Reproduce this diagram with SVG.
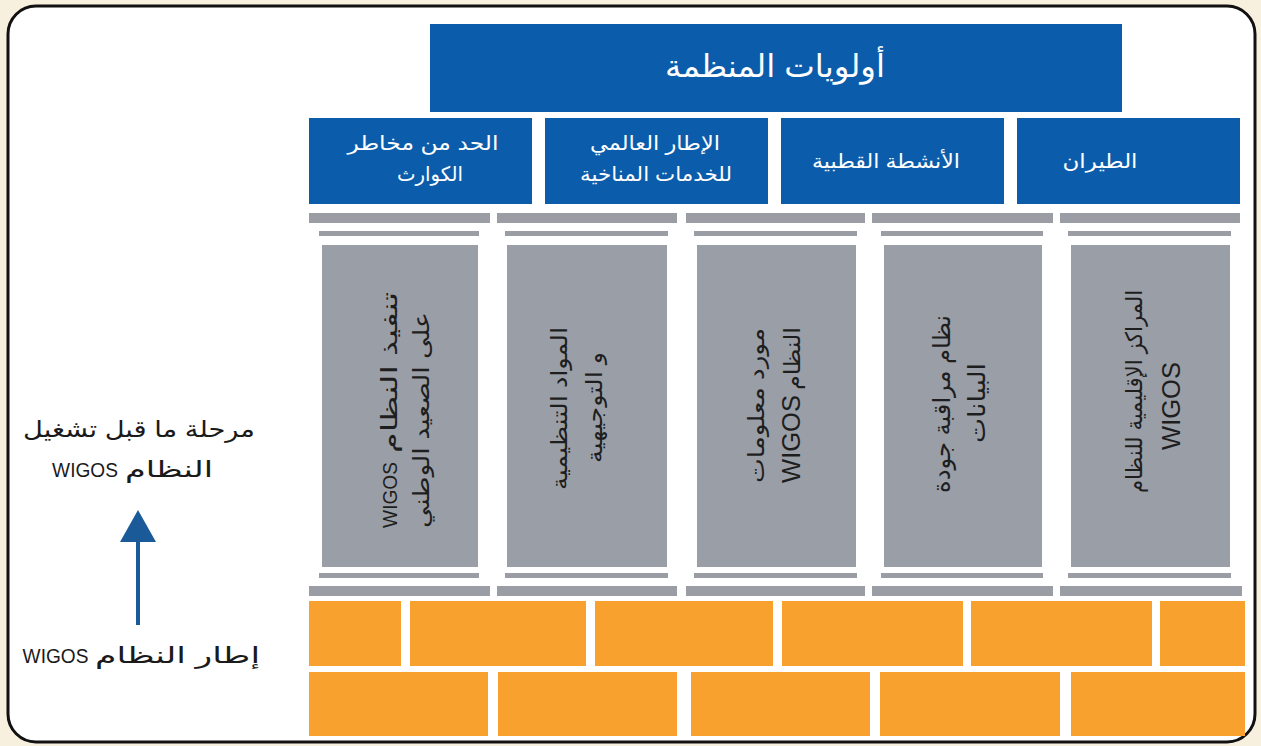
<svg xmlns="http://www.w3.org/2000/svg" width="1261" height="746" viewBox="0 0 1261 746">
  <defs>
    <style>
      .ar { font-family: "Liberation Sans", "DejaVu Sans", sans-serif; }
      .blue { fill: #0b5dab; }
      .bar { fill: #9b9da4; }
      .pillar { fill: #9a9ea7; }
      .brick { fill: #f8a12e; }
      .head { fill: #ffffff; font-size: 31px; }
      .cat { fill: #ffffff; font-size: 20px; }
      .col { fill: #1e1e1e; font-size: 22px; }
      .side { fill: #1a1a1a; font-size: 23px; }
      .latin { font-family: "Liberation Sans", Arial, sans-serif; }
    </style>
  </defs>

  <!-- page and frame -->
  <rect x="0" y="0" width="1261" height="746" fill="#f8f0df"/>
  <rect x="8" y="6" width="1247" height="736" rx="28" ry="28" fill="#ffffff" stroke="#111111" stroke-width="3"/>

  <!-- organisation priorities -->
  <g id="priorities">
    <rect class="blue" x="430" y="24" width="692" height="88"/>
    <text class="ar head" x="775" y="77" text-anchor="middle" direction="rtl" textLength="220" lengthAdjust="spacingAndGlyphs">أولويات المنظمة</text>
  </g>

  <g id="cat-disaster">
    <rect class="blue" x="309" y="118" width="223" height="86"/>
    <text class="ar cat" x="423" y="150" text-anchor="middle" direction="rtl" textLength="151" lengthAdjust="spacingAndGlyphs">الحد من مخاطر</text>
    <text class="ar cat" x="430" y="181" text-anchor="middle" direction="rtl" textLength="66" lengthAdjust="spacingAndGlyphs">الكوارث</text>
  </g>
  <g id="cat-gfcs">
    <rect class="blue" x="545" y="118" width="223" height="86"/>
    <text class="ar cat" x="655" y="150" text-anchor="middle" direction="rtl" textLength="130" lengthAdjust="spacingAndGlyphs">الإطار العالمي</text>
    <text class="ar cat" x="656" y="181" text-anchor="middle" direction="rtl" textLength="152" lengthAdjust="spacingAndGlyphs">للخدمات المناخية</text>
  </g>
  <g id="cat-polar">
    <rect class="blue" x="781" y="118" width="223" height="86"/>
    <text class="ar cat" x="886" y="168" text-anchor="middle" direction="rtl" textLength="148" lengthAdjust="spacingAndGlyphs">الأنشطة القطبية</text>
  </g>
  <g id="cat-aviation">
    <rect class="blue" x="1017" y="118" width="223" height="86"/>
    <text class="ar cat" x="1100" y="168" text-anchor="middle" direction="rtl" textLength="75" lengthAdjust="spacingAndGlyphs">الطيران</text>
  </g>

  <!-- upper and lower beams -->
  <g id="beams">
    <rect class="bar" x="309" y="213" width="181" height="10"/>
    <rect class="bar" x="497" y="213" width="180" height="10"/>
    <rect class="bar" x="686" y="213" width="179" height="10"/>
    <rect class="bar" x="872" y="213" width="181" height="10"/>
    <rect class="bar" x="1060" y="213" width="180" height="10"/>

    <rect class="bar" x="309" y="586" width="181" height="10"/>
    <rect class="bar" x="497" y="586" width="180" height="10"/>
    <rect class="bar" x="686" y="586" width="179" height="10"/>
    <rect class="bar" x="872" y="586" width="181" height="10"/>
    <rect class="bar" x="1060" y="586" width="182" height="10"/>
  </g>

  <!-- pillars: each text run is turned to read upwards along the column -->
  <g id="pillar-national">
    <rect class="bar" x="319" y="231" width="160" height="5"/>
    <rect class="pillar" x="322" y="245" width="156" height="322"/>
    <rect class="bar" x="319" y="573" width="160" height="5"/>
    <text class="ar col" transform="translate(397,372.5) rotate(-90)" text-anchor="middle" direction="rtl" textLength="161" lengthAdjust="spacingAndGlyphs">تنفيذ النظام</text>
    <text class="latin col" style="font-size:21px" transform="translate(397,495) rotate(-90) scale(0.91,1)" text-anchor="middle">WIGOS</text>
    <text class="ar col" transform="translate(429,420) rotate(-90)" text-anchor="middle" direction="rtl" textLength="216" lengthAdjust="spacingAndGlyphs">على الصعيد الوطني</text>
  </g>
  <g id="pillar-regulatory">
    <rect class="bar" x="505" y="231" width="163" height="5"/>
    <rect class="pillar" x="507" y="245" width="160" height="322"/>
    <rect class="bar" x="505" y="573" width="163" height="5"/>
    <text class="ar col" transform="translate(567,408.5) rotate(-90)" text-anchor="middle" direction="rtl" textLength="163" lengthAdjust="spacingAndGlyphs">المواد التنظيمية</text>
    <text class="ar col" transform="translate(602,407.5) rotate(-90)" text-anchor="middle" direction="rtl" textLength="111" lengthAdjust="spacingAndGlyphs">و التوجيهية</text>
  </g>
  <g id="pillar-oscar">
    <rect class="bar" x="694" y="231" width="163" height="5"/>
    <rect class="pillar" x="697" y="245" width="159" height="322"/>
    <rect class="bar" x="694" y="573" width="163" height="5"/>
    <text class="ar col" transform="translate(764,405.5) rotate(-90)" text-anchor="middle" direction="rtl" textLength="155" lengthAdjust="spacingAndGlyphs">مورد معلومات</text>
    <text class="ar col" transform="translate(800,358.5) rotate(-90)" text-anchor="middle" direction="rtl" textLength="63" lengthAdjust="spacingAndGlyphs">النظام</text>
    <text class="latin col" style="font-size:25.5px" transform="translate(800,439) rotate(-90)" text-anchor="middle">WIGOS</text>
  </g>
  <g id="pillar-quality">
    <rect class="bar" x="881" y="231" width="162" height="5"/>
    <rect class="pillar" x="884" y="245" width="158" height="322"/>
    <rect class="bar" x="881" y="573" width="162" height="5"/>
    <text class="ar col" style="font-size:24px" transform="translate(950,404) rotate(-90)" text-anchor="middle" direction="rtl" textLength="178" lengthAdjust="spacingAndGlyphs">نظام مراقبة جودة</text>
    <text class="ar col" style="font-size:24px" transform="translate(985,403) rotate(-90)" text-anchor="middle" direction="rtl" textLength="80" lengthAdjust="spacingAndGlyphs">البيانات</text>
  </g>
  <g id="pillar-regional">
    <rect class="bar" x="1068" y="231" width="163" height="5"/>
    <rect class="pillar" x="1071" y="245" width="159" height="322"/>
    <rect class="bar" x="1068" y="573" width="163" height="5"/>
    <text class="ar col" style="font-size:23px" transform="translate(1142,391.5) rotate(-90)" text-anchor="middle" direction="rtl" textLength="203" lengthAdjust="spacingAndGlyphs">المراكز الإقليمية للنظام</text>
    <text class="latin col" style="font-size:25.5px" transform="translate(1180,406) rotate(-90)" text-anchor="middle">WIGOS</text>
  </g>

  <!-- foundation bricks -->
  <g id="foundation">
    <rect class="brick" x="309" y="601" width="92" height="65"/>
    <rect class="brick" x="410" y="601" width="176" height="65"/>
    <rect class="brick" x="595" y="601" width="178" height="65"/>
    <rect class="brick" x="782" y="601" width="181" height="65"/>
    <rect class="brick" x="971" y="601" width="181" height="65"/>
    <rect class="brick" x="1160" y="601" width="85" height="65"/>

    <rect class="brick" x="309" y="672" width="179" height="64"/>
    <rect class="brick" x="498" y="672" width="179" height="64"/>
    <rect class="brick" x="691" y="672" width="179" height="64"/>
    <rect class="brick" x="880" y="672" width="180" height="64"/>
    <rect class="brick" x="1071" y="672" width="174" height="64"/>
  </g>

  <!-- side labels -->
  <g id="stage-label">
    <text class="ar side" x="139" y="437" text-anchor="middle" direction="rtl" textLength="232" lengthAdjust="spacingAndGlyphs">مرحلة ما قبل تشغيل</text>
    <text class="ar side" x="169" y="477" text-anchor="middle" direction="rtl" textLength="88" lengthAdjust="spacingAndGlyphs">النظام</text>
    <text class="latin side" style="font-size:21px" transform="translate(85,477) scale(0.91,1)" text-anchor="middle">WIGOS</text>
  </g>
  <g id="framework-label">
    <text class="ar side" x="177.5" y="663" text-anchor="middle" direction="rtl" textLength="165" lengthAdjust="spacingAndGlyphs">إطار النظام</text>
    <text class="latin side" style="font-size:21px" transform="translate(55.5,663) scale(0.91,1)" text-anchor="middle">WIGOS</text>
  </g>

  <!-- connector -->
  <g id="connectors">
    <line x1="138" y1="625" x2="138" y2="535" stroke="#1b5a98" stroke-width="4"/>
    <polygon points="138,510 120,542 156,542" fill="#1b5a98"/>
  </g>
</svg>
